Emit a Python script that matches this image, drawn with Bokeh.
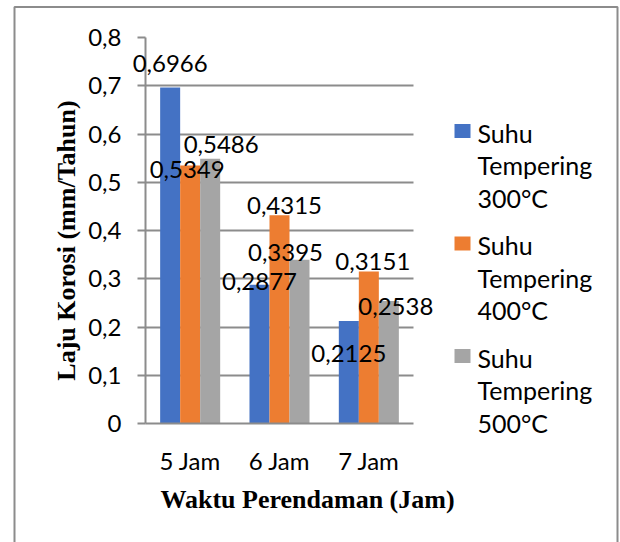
import math
from bokeh.plotting import figure
from bokeh.models import ColumnDataSource, Range1d, FixedTicker, CustomJSTickFormatter
from bokeh.transform import dodge
from bokeh.core.properties import value
from bokeh.embed import file_html
from bokeh.resources import INLINE

# ---- data ----
categories = ["5 Jam", "6 Jam", "7 Jam"]
suhu_300 = [0.6966, 0.2877, 0.2125]
suhu_400 = [0.5349, 0.4315, 0.3151]
suhu_500 = [0.5486, 0.3395, 0.2538]
series_names = ["Suhu\nTempering\n300°C", "Suhu\nTempering\n400°C", "Suhu\nTempering\n500°C"]
y_ticks = [0, 0.1, 0.2, 0.3, 0.4, 0.5, 0.6, 0.7, 0.8]
x_title = "Waktu Perendaman (Jam)"
y_title = "Laju Korosi (mm/Tahun)"

# ---- layout tweaks for data labels (screen px offsets from bar top, + = up) ----
label_dx = {"300": [0, 0, 0], "400": [-3, 5, 4], "500": [11, -14, 7]}
label_dy = {"300": [24, 3, -33], "400": [-4, 10, 10], "500": [14, 7, -5]}

colors = ["#4472C4", "#ED7D31", "#A5A5A5"]
FONT = "Lato"
SERIF = "Liberation Serif"
GRID = "#8c8c8c"

W, H = 620, 542
FL, FR, FT, FB = 145, 413, 37, 423          # bar area in page pixels
ncat = len(categories)
px_cat = (FR - FL) / ncat
px_unit = (FB - FT) / 0.8
x_pos = [i + 0.5 for i in range(ncat)]


def to_x(px):
    return (px - FL) / px_cat


def to_y(py):
    return (FB - py) / px_unit


def anchored(px, py):
    """anchor inside the frame plus screen offset reaching the wanted pixel"""
    cx = min(max(px, FL + 3), W - 3)
    cy = min(max(py, FT + 3), FB - 3)
    return to_x(cx), to_y(cy), px - cx, py - cy


p = figure(x_range=Range1d(0, to_x(W)), y_range=Range1d(0, 0.8), width=W, height=H,
           output_backend="svg", toolbar_location=None,
           min_border_left=FL, min_border_right=0,
           min_border_top=FT, min_border_bottom=H - FB)
p.outline_line_color = None
p.background_fill_color = "white"
p.border_fill_color = "white"

bw = 0.224
offs = [-bw, 0.0, bw]
keys = ["300", "400", "500"]
vals = [suhu_300, suhu_400, suhu_500]

for k, v, c, o in zip(keys, vals, colors, offs):
    src = ColumnDataSource(dict(
        x=x_pos, val=v,
        txt=[f"{x:.4f}".replace(".", ",") for x in v],
        dx=label_dx[k], dy=[-d for d in label_dy[k]]))
    p.vbar(x=dodge("x", o), top="val", width=bw, source=src,
           fill_color=c, line_color=None)
    p.text(x=dodge("x", o), y="val", text="txt",
           x_offset="dx", y_offset="dy", source=src, level="overlay",
           text_font=value(FONT), text_font_size="24px", text_color="black",
           text_align="center", text_baseline="middle")

# axes
p.yaxis.ticker = FixedTicker(ticks=y_ticks)
p.yaxis.formatter = CustomJSTickFormatter(code="""
    return tick === 0 ? "0" : tick.toFixed(1).replace(".", ",");
""")
p.xaxis.ticker = FixedTicker(ticks=x_pos)
p.xaxis.major_label_overrides = {xp: c for xp, c in zip(x_pos, categories)}
p.xaxis.bounds = (0, ncat)
for ax in (p.xaxis, p.yaxis):
    ax.axis_line_color = GRID
    ax.axis_line_width = 2
    ax.major_label_text_font = FONT
    ax.major_label_text_font_size = "24px"
    ax.major_label_text_color = "black"
    ax.minor_tick_line_color = None
p.yaxis.major_tick_line_color = GRID
p.yaxis.major_tick_line_width = 2
p.yaxis.major_tick_out = 8
p.yaxis.major_tick_in = 0
p.yaxis.major_label_standoff = 16
p.xaxis.major_tick_line_color = None
p.xaxis.major_tick_out = 0
p.xaxis.major_tick_in = 0
p.xaxis.major_label_standoff = 22

p.xgrid.grid_line_color = None
p.ygrid.grid_line_color = GRID
p.ygrid.grid_line_width = 2
p.ygrid.cross_bounds = (0, ncat)

# axis titles
ax_, ay_, ox_, oy_ = anchored(307, 499)
p.text(x=[ax_], y=[ay_], text=[x_title], x_offset=ox_, y_offset=oy_, level="overlay",
       text_font=value(SERIF), text_font_style="bold", text_font_size="26px",
       text_color="black", text_align="center", text_baseline="middle")
ax_, ay_, ox_, oy_ = anchored(66, 240)
p.text(x=[ax_], y=[ay_], text=[y_title], x_offset=ox_, y_offset=oy_, angle=math.pi / 2,
       level="overlay",
       text_font=value(SERIF), text_font_style="bold", text_font_size="26px",
       text_color="black", text_align="center", text_baseline="middle")

# legend (swatch + three text lines per series)
sw_x, sw_y = 462, [130.5, 243, 355.5]
tx_x, tx_y0, line_pitch = 477, [132, 244.5, 357], 32.5
p.rect(x=[to_x(sw_x)] * ncat, y=[to_y(s) for s in sw_y], width=16, height=14,
       width_units="screen", height_units="screen",
       fill_color=colors, line_color=None, level="overlay")
lx, ly, lox, loy, lt = [], [], [], [], []
for name, y0 in zip(series_names, tx_y0):
    for j, line in enumerate(name.split("\n")):
        a = anchored(tx_x, y0 + j * line_pitch)
        lx.append(a[0]); ly.append(a[1]); lox.append(a[2]); loy.append(a[3]); lt.append(line)
p.text(x=lx, y=ly, text=lt, x_offset=lox, y_offset=loy, level="overlay",
       text_font=value(FONT), text_font_size="25px", text_color="black",
       text_align="left", text_baseline="middle")

# outer chart border
bx0, bx1, by0, by1 = 14, 617, 6.5, 580
p.quad(left=[to_x(bx0)], right=[to_x(bx1)], top=[to_y(by0)], bottom=[to_y(by1)],
       fill_color=None, line_color=GRID, line_width=2, level="overlay")

open("out.html", "w").write(file_html(p, INLINE))
